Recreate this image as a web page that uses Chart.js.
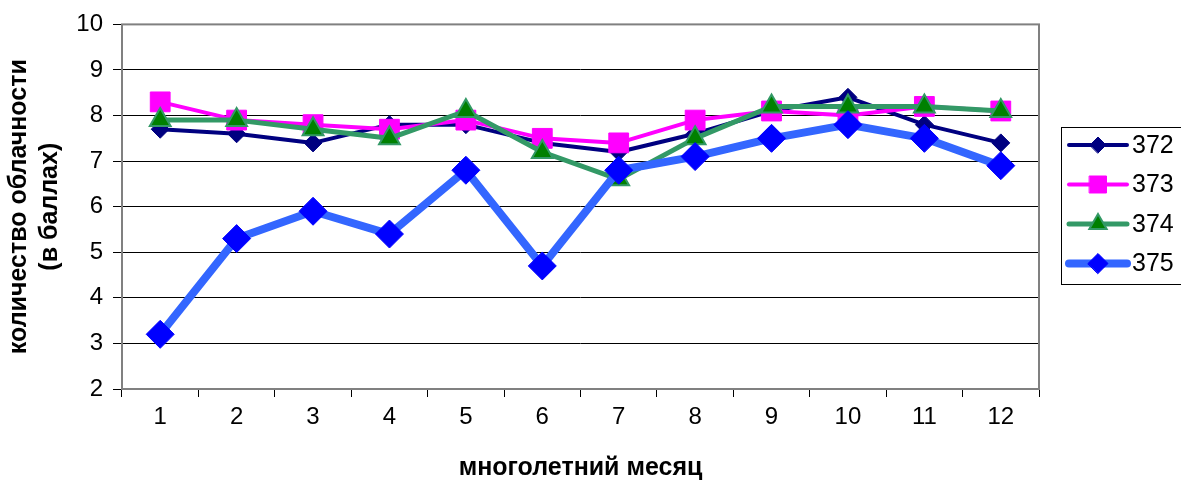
<!DOCTYPE html>
<html lang="ru">
<head>
<meta charset="utf-8">
<title>Количество облачности</title>
<script src="https://cdn.jsdelivr.net/npm/chart.js@4.4.1/dist/chart.umd.min.js"></script>
<style>
  html, body { margin: 0; padding: 0; background: #ffffff; }
  #wrap { width: 1181px; height: 484px; position: relative; }
</style>
</head>
<body>
<div id="wrap"><canvas id="chart" width="1181" height="484"></canvas></div>
<script>
// Месяцы и средние многолетние значения облачности (баллы) по станциям
const months = ['1', '2', '3', '4', '5', '6', '7', '8', '9', '10', '11', '12'];
const st372 = [7.7, 7.6, 7.4, 7.8, 7.8, 7.4, 7.2, 7.6, 8.1, 8.4, 7.8, 7.4];
const st373 = [8.3, 7.9, 7.8, 7.7, 7.9, 7.5, 7.4, 7.9, 8.1, 8.0, 8.2, 8.1];
const st374 = [7.9, 7.9, 7.7, 7.5, 8.1, 7.2, 6.6, 7.5, 8.2, 8.2, 8.2, 8.1];
const st375 = [3.2, 5.3, 5.9, 5.4, 6.8, 4.7, 6.8, 7.1, 7.5, 7.8, 7.5, 6.9];
const stationNames = ['372', '373', '374', '375'];
const yTicks = [2, 3, 4, 5, 6, 7, 8, 9, 10];

const FONT = 'Liberation Sans, Arial, Helvetica, sans-serif';

// Серая рамка области построения
const plotFrame = {
  id: 'plotFrame',
  beforeDatasetsDraw(chart) {
    const {ctx, chartArea: a} = chart;
    ctx.save();
    ctx.strokeStyle = '#808080';
    ctx.lineWidth = 2;
    ctx.strokeRect(a.left, a.top, a.right - a.left, a.bottom - a.top);
    ctx.restore();
  }
};

// Легенда в рамке справа: линия с маркером и подпись
const sideLegend = {
  id: 'sideLegend',
  afterDraw(chart) {
    const {ctx} = chart;
    const boxX = 1061, boxY = 127, boxW = 140, boxH = 157;
    ctx.save();
    ctx.fillStyle = '#ffffff';
    ctx.fillRect(boxX, boxY, boxW, boxH);
    ctx.strokeStyle = '#000000';
    ctx.lineWidth = 1;
    ctx.strokeRect(boxX + 0.5, boxY + 0.5, boxW, boxH);
    chart.data.datasets.forEach((ds, i) => {
      const cy = boxY + 18 + i * 39.5;
      ctx.strokeStyle = ds.borderColor;
      ctx.lineWidth = ds.borderWidth;
      ctx.lineCap = 'round';
      ctx.beginPath();
      ctx.moveTo(1069, cy);
      ctx.lineTo(1127, cy);
      ctx.stroke();
      ctx.fillStyle = ds.pointBackgroundColor;
      ctx.strokeStyle = ds.pointBorderColor;
      ctx.lineWidth = ds.pointBorderWidth;
      Chart.helpers.drawPoint(ctx, {
        pointStyle: ds.pointStyle,
        radius: ds.legendRadius,
        rotation: 0,
        borderWidth: ds.pointBorderWidth
      }, 1098, cy);
      ctx.fillStyle = '#000000';
      ctx.font = '25px ' + FONT;
      ctx.textAlign = 'left';
      ctx.textBaseline = 'middle';
      ctx.fillText(ds.label, 1132, cy + 1);
    });
    ctx.restore();
  }
};

new Chart(document.getElementById('chart'), {
  type: 'line',
  data: {
    labels: months,
    datasets: [
      {
        label: stationNames[0], data: st372, order: 4,
        borderColor: '#000080', borderWidth: 4,
        pointStyle: 'rectRot', pointRadius: 9, legendRadius: 8,
        pointBackgroundColor: '#000080', pointBorderColor: '#000080', pointBorderWidth: 1
      },
      {
        label: stationNames[1], data: st373, order: 3,
        borderColor: '#FF00FF', borderWidth: 4,
        pointStyle: 'rect', pointRadius: 14, legendRadius: 12,
        pointBackgroundColor: '#FF00FF', pointBorderColor: '#FF00FF', pointBorderWidth: 1
      },
      {
        label: stationNames[2], data: st374, order: 2,
        borderColor: '#339966', borderWidth: 5,
        pointStyle: 'triangle', pointRadius: 12, legendRadius: 10,
        pointBackgroundColor: '#008000', pointBorderColor: '#339966', pointBorderWidth: 2
      },
      {
        label: stationNames[3], data: st375, order: 1,
        borderColor: '#3366FF', borderWidth: 8,
        pointStyle: 'rectRot', pointRadius: 14, legendRadius: 10,
        pointBackgroundColor: '#0000FF', pointBorderColor: '#0000FF', pointBorderWidth: 1
      }
    ]
  },
  options: {
    responsive: false,
    animation: false,
    devicePixelRatio: 1,
    layout: { padding: { top: 23, right: 142, left: 0, bottom: 0 } },
    elements: { line: { tension: 0, borderJoinStyle: 'round', borderCapStyle: 'round' } },
    plugins: {
      legend: { display: false },
      tooltip: { enabled: false }
    },
    scales: {
      x: {
        type: 'category',
        offset: true,
        afterFit(scale) { scale.height = 95; },
        grid: {
          offset: true,
          drawOnChartArea: false,
          drawTicks: true,
          tickLength: 8,
          color: '#000000',
          lineWidth: 1
        },
        border: { display: false },
        ticks: {
          color: '#000000',
          padding: 6,
          maxRotation: 0,
          font: { family: FONT, size: 24 }
        },
        title: {
          display: true,
          text: 'многолетний месяц',
          color: '#000000',
          padding: { top: 0, bottom: 1 },
          font: { family: FONT, size: 25, weight: 'bold', lineHeight: 1.2 }
        }
      },
      y: {
        min: 2,
        max: 10,
        afterFit(scale) { scale.width = 122; },
        afterBuildTicks(scale) { scale.ticks = yTicks.map(v => ({ value: v })); },
        grid: {
          color: '#000000',
          lineWidth: 1,
          tickLength: 9,
          drawTicks: true
        },
        border: { display: false },
        ticks: {
          color: '#000000',
          padding: 10,
          font: { family: FONT, size: 24 }
        },
        title: {
          display: true,
          text: ['количество облачности', '(в баллах)'],
          color: '#000000',
          padding: { top: 4, bottom: 0 },
          font: { family: FONT, size: 25, weight: 'bold', lineHeight: 1.24 }
        }
      }
    }
  },
  plugins: [plotFrame, sideLegend]
});
</script>
</body>
</html>
